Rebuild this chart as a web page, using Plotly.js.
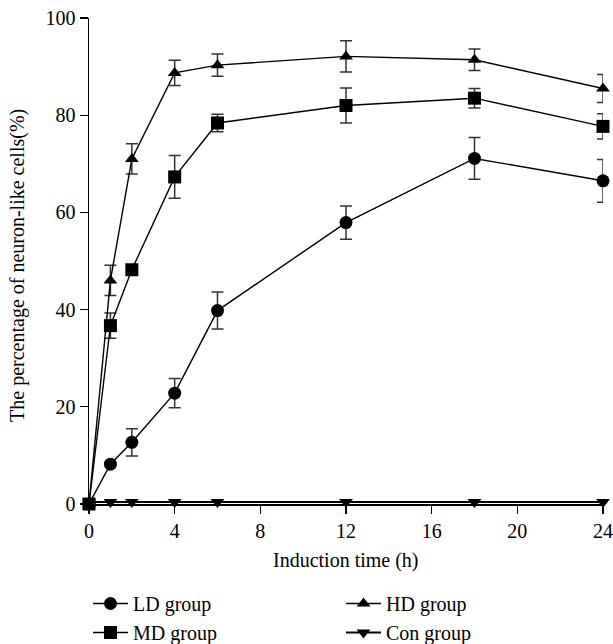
<!DOCTYPE html>
<html>
<head>
<meta charset="utf-8">
<script src="https://cdn.plot.ly/plotly-3.0.1.min.js"></script>
<style>html,body{margin:0;padding:0;background:#fff;}#chart{width:613px;height:644px;}</style>
</head>
<body>
<div id="chart"></div>
<script>
var timeH = [0, 1, 2, 4, 6, 12, 18, 24];

var ldValues = [0, 8.2, 12.7, 22.8, 39.8, 57.9, 71.1, 66.5];
var ldErrors = [0, 0, 2.8, 3.0, 3.8, 3.4, 4.3, 4.4];

var mdValues = [0, 36.7, 48.2, 67.3, 78.4, 82.0, 83.5, 77.7];
var mdErrors = [0, 2.6, 0, 4.4, 1.8, 3.6, 2.0, 2.6];

var hdValues = [0, 46.0, 71.0, 88.7, 90.3, 92.1, 91.4, 85.5];
var hdErrors = [0, 3.1, 3.1, 2.6, 2.3, 3.2, 2.2, 2.9];

var conValues = [0.4, 0.4, 0.4, 0.4, 0.4, 0.4, 0.4, 0.4];

var seriesNames = ['LD group', 'MD group', 'HD group', 'Con group'];
var xTickVals = [0, 4, 8, 12, 16, 20, 24];
var yTickVals = [0, 20, 40, 60, 80, 100];
var xTitle = 'Induction time (h)';
var yTitle = 'The percentage of neuron-like cells(%)';

var FONT = 'Liberation Serif, Times New Roman, serif';
var FS = 20;

function errBar(arr) {
  return {type: 'data', array: arr, visible: true, color: '#333', thickness: 1.5, width: 6};
}

function mk(name, y, err, symbol, size, legend) {
  var t = {
    type: 'scatter', mode: 'lines+markers', name: name, x: timeH, y: y,
    line: {color: '#000', width: 1.4},
    marker: {symbol: symbol, size: size, color: '#000'},
    cliponaxis: false, legend: legend
  };
  if (err) t.error_y = errBar(err);
  return t;
}

var traces = [
  mk(seriesNames[0], ldValues, ldErrors, 'circle', 13, 'legend'),
  mk(seriesNames[1], mdValues, mdErrors, 'square', 13, 'legend'),
  mk(seriesNames[2], hdValues, hdErrors, 'triangle-up', 12, 'legend2'),
  mk(seriesNames[3], conValues, null, 'triangle-down', 12, 'legend2')
];
traces[3].line.width = 2;

var legendCommon = {
  xref: 'container', yref: 'container', xanchor: 'left', yanchor: 'top',
  bgcolor: 'rgba(0,0,0,0)', borderwidth: 0, itemwidth: 35,
  font: {family: FONT, size: FS, color: '#000'},
  traceorder: 'normal'
};

var layout = {
  width: 613, height: 644,
  margin: {l: 89, r: 10, t: 18, b: 140, autoexpand: false},
  paper_bgcolor: '#fff', plot_bgcolor: '#fff',
  font: {family: FONT, size: FS, color: '#000'},
  showlegend: true,
  xaxis: {
    range: [0, 24], tickvals: xTickVals, ticktext: xTickVals.map(String),
    showgrid: false, zeroline: false, showline: true, linecolor: '#000', linewidth: 1.5,
    ticks: 'outside', ticklen: 8, tickwidth: 1.3, tickcolor: '#000',
    tickfont: {family: FONT, size: FS}
  },
  yaxis: {
    range: [0, 100], tickvals: yTickVals, ticktext: yTickVals.map(String),
    showgrid: false, zeroline: false, showline: true, linecolor: '#000', linewidth: 1.5,
    ticks: 'outside', ticklen: 8, tickwidth: 1.3, tickcolor: '#000',
    tickfont: {family: FONT, size: FS}
  },
  annotations: [
    {text: xTitle, xref: 'paper', yref: 'paper', x: 0.5, y: -0.117,
     xanchor: 'center', yanchor: 'middle', showarrow: false,
     font: {family: FONT, size: FS, color: '#000'}},
    {text: yTitle, xref: 'paper', yref: 'paper', x: -0.138, y: 0.49,
     xanchor: 'center', yanchor: 'middle', textangle: -90, showarrow: false,
     font: {family: FONT, size: FS, color: '#000'}}
  ],
  legend: Object.assign({}, legendCommon, {x: 88 / 613, y: 1 - 584 / 644}),
  legend2: Object.assign({}, legendCommon, {x: 341 / 613, y: 1 - 584 / 644})
};

Plotly.newPlot('chart', traces, layout, {displayModeBar: false, staticPlot: true});
</script>
</body>
</html>
